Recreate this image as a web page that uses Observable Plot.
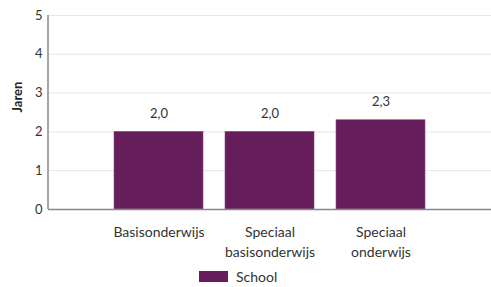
<!DOCTYPE html>
<html>
<head>
<meta charset="utf-8">
<script src="https://cdn.jsdelivr.net/npm/d3@7"></script>
<script src="https://cdn.jsdelivr.net/npm/@observablehq/plot@0.6"></script>
<style>
  body { margin: 0; background: #fff; font-family: Lato, "Open Sans", sans-serif; }
  #chart { width: 491px; }
  .legend { display: flex; align-items: center; justify-content: flex-start; padding-left: 199px; height: 22px; font-size: 14px; color: #333; }
  .legend .sw { width: 29px; height: 11px; margin-right: 8px; }
</style>
</head>
<body>
<div id="chart"></div>
<script>
const categories = ["Basisonderwijs", "Speciaal basisonderwijs", "Speciaal onderwijs"];
const categoryLabels = ["Basisonderwijs", "Speciaal\nbasisonderwijs", "Speciaal\nonderwijs"];
const values = [2.0, 2.0, 2.3];
const yTicks = [0, 1, 2, 3, 4, 5];
const seriesName = "School";
const yLabel = "Jaren";
const barColor = "#661d5b";

const data = categories.map((c, i) => ({category: c, value: values[i]}));
const fmt = v => d3.format(".1f")(v).replace(".", ",");
const labelOf = Object.fromEntries(categories.map((c, i) => [c, categoryLabels[i]]));

// vertical axis line at the left edge of the frame, spanning the y scale
const yAxisLine = (index, scales, values, dims) => {
  const [y0, y1] = scales.y.range ? [scales.y(d3.min(yTicks)), scales.y(d3.max(yTicks))] : [0, 0];
  const line = document.createElementNS("http://www.w3.org/2000/svg", "line");
  line.setAttribute("x1", dims.marginLeft);
  line.setAttribute("x2", dims.marginLeft);
  line.setAttribute("y1", y0);
  line.setAttribute("y2", y1);
  line.setAttribute("stroke", "#888");
  line.setAttribute("stroke-width", 1.5);
  return line;
};

const plot = Plot.plot({
  width: 491,
  height: 265,
  marginTop: 15,
  marginBottom: 56,
  marginLeft: 48,
  marginRight: 0,
  style: {fontFamily: "Lato, 'Open Sans', sans-serif", fontSize: "13px", color: "#333"},
  x: {domain: categories, paddingInner: 0.2, paddingOuter: 0.58, label: null},
  y: {domain: [0, 5], ticks: yTicks, label: null},
  marks: [
    Plot.gridY(yTicks, {stroke: "#e6e6e6", strokeOpacity: 1}),
    Plot.barY(data, {x: "category", y: "value", fill: barColor, stroke: "#8a4d82", strokeWidth: 0.6}),
    Plot.text(data, {x: "category", y: "value", text: d => fmt(d.value), dy: -18, fontSize: 13, fill: "#333"}),
    Plot.axisY(yTicks, {tickSize: 0, tickPadding: 6, fontSize: 13, label: null, tickFormat: d => String(d)}),
    Plot.axisX({tickSize: 0, tickPadding: 13, fontSize: 14, lineHeight: 1.45, tickFormat: d => labelOf[d], label: null}),
    yAxisLine,
    Plot.ruleY([0], {stroke: "#888", strokeWidth: 1.5}),
    Plot.text([yLabel], {frameAnchor: "left", dx: -31, rotate: -90, fontWeight: "bold", fontSize: 13, fill: "#222"})
  ]
});
document.getElementById("chart").appendChild(plot);

const legend = document.createElement("div");
legend.className = "legend";
legend.innerHTML = `<span class="sw" style="background:${barColor}"></span><span>${seriesName}</span>`;
document.getElementById("chart").appendChild(legend);
</script>
</body>
</html>
